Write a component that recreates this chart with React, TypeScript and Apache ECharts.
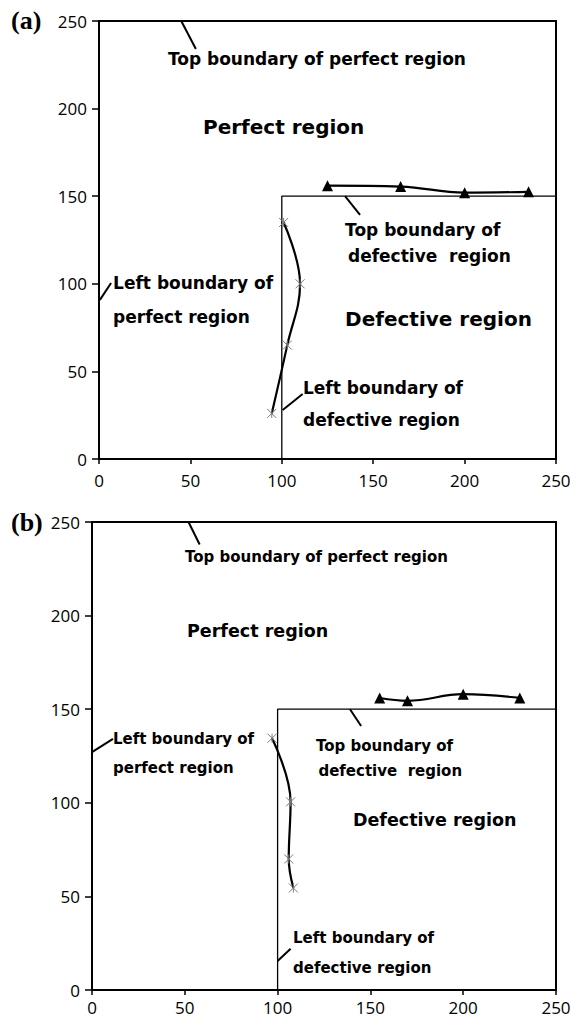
import React, { useEffect, useRef } from "react";
import * as echarts from "echarts";

// Axis range shared by both panels
const AXIS_MIN = 0;
const AXIS_MAX = 250;
const AXIS_STEP = 50;

// Panel (a): measured top-boundary points (triangles) and left-boundary points (crosses)
const topPointsA = [
  [125, 156],
  [165, 155.5],
  [200, 152],
  [235, 152.5],
];
const leftPointsA = [
  [101, 135],
  [110, 100],
  [103, 65],
  [94.5, 26],
];

// Panel (b)
const topPointsB = [
  [155, 156],
  [170, 154.5],
  [200, 158],
  [230.5, 156],
];
const leftPointsB = [
  [97, 134.5],
  [107, 100.5],
  [106, 70],
  [108.5, 54.5],
];

// Defective region outline (left edge at x=100, top edge at y=150)
const defectiveOutline = [
  [100, 0],
  [100, 150],
  [250, 150],
];

// Annotation text lines, anchored at their left / vertical middle in data units
const notesA = [
  { text: "Top boundary of perfect region", at: [37.7, 228.3], big: false },
  { text: "Perfect region", at: [56.9, 189.5], big: true },
  { text: "Top boundary of", at: [134.6, 130.7], big: false },
  { text: "defective  region", at: [136.2, 115.9], big: false },
  { text: "Left boundary of", at: [7.7, 100.5], big: false },
  { text: "perfect region", at: [7.7, 81], big: false },
  { text: "Defective region", at: [134.6, 79.9], big: true },
  { text: "Left boundary of", at: [111.6, 40.5], big: false },
  { text: "defective region", at: [111.6, 22.3], big: false },
];
const notesB = [
  { text: "Top boundary of perfect region", at: [50.1, 231.3], big: false },
  { text: "Perfect region", at: [51.2, 191.8], big: true },
  { text: "Top boundary of", at: [120.7, 130.3], big: false },
  { text: "defective  region", at: [122, 117], big: false },
  { text: "Left boundary of", at: [11.3, 134.1], big: false },
  { text: "perfect region", at: [11.3, 118.6], big: false },
  { text: "Defective region", at: [140.6, 90.8], big: true },
  { text: "Left boundary of", at: [108.3, 27.8], big: false },
  { text: "defective region", at: [108.3, 11.8], big: false },
];

// Leader lines from each boundary to its label
const leadersA = [
  [[45, 250], [53, 234]],
  [[134.6, 150], [142.8, 139.3]],
  [[0.5, 90.8], [6.6, 100.5]],
  [[100.5, 28], [111.4, 37.1]],
];
const leadersB = [
  [[52, 250], [58, 238]],
  [[139, 150], [145, 141]],
  [[0, 127.1], [11.3, 134.1]],
  [[100, 15.5], [107, 22]],
];

const panelTags = ["(a)", "(b)"];

const TICK_FONT = '"Open Sans", "DejaVu Sans", sans-serif';
const NOTE_FONT = '"DejaVu Sans", sans-serif';
const STAR = "path://M0 0L10 10M10 0L0 10M5 0L5 10";

const panels = [
  {
    grid: { left: 99, top: 21, width: 457, height: 438 },
    top: topPointsA,
    left: leftPointsA,
    notes: notesA,
    leaders: leadersA,
    small: 17,
    big: 20,
    tick: 17,
    xMargin: 13,
    tagY: 20,
  },
  {
    grid: { left: 92, top: 522, width: 464, height: 468 },
    top: topPointsB,
    left: leftPointsB,
    notes: notesB,
    leaders: leadersB,
    small: 15,
    big: 17.5,
    tick: 17,
    xMargin: 9,
    tagY: 522,
  },
];

function axis(gridIndex: number, isX: boolean, fontSize: number, margin: number) {
  return {
    type: "value",
    gridIndex,
    min: AXIS_MIN,
    max: AXIS_MAX,
    interval: AXIS_STEP,
    axisLine: { show: true, lineStyle: { color: "#000", width: 2 } },
    axisTick: {
      show: true,
      inside: false,
      length: isX ? 5 : 7,
      lineStyle: { color: "#000", width: 1.5 },
    },
    axisLabel: {
      color: "#000",
      fontSize,
      fontFamily: TICK_FONT,
      margin,
    },
    splitLine: { show: false },
  };
}

export default function App() {
  const ref = useRef<HTMLDivElement>(null);

  useEffect(() => {
    if (!ref.current) return;
    const chart = echarts.init(ref.current, undefined, { renderer: "svg" });

    const series: any[] = [];
    panels.forEach((p, i) => {
      series.push({
        type: "line",
        xAxisIndex: i,
        yAxisIndex: i,
        data: defectiveOutline,
        symbol: "none",
        silent: true,
        lineStyle: { color: "#000", width: 1.3 },
      });
      p.leaders.forEach((seg) => {
        series.push({
          type: "line",
          xAxisIndex: i,
          yAxisIndex: i,
          data: seg,
          symbol: "none",
          silent: true,
          lineStyle: { color: "#000", width: 2 },
        });
      });
      series.push({
        type: "line",
        xAxisIndex: i,
        yAxisIndex: i,
        data: p.top,
        smooth: 0.4,
        symbol: "triangle",
        symbolSize: 11,
        itemStyle: { color: "#000" },
        lineStyle: { color: "#000", width: 2.2 },
      });
      series.push({
        type: "line",
        xAxisIndex: i,
        yAxisIndex: i,
        data: p.left,
        smooth: 0.4,
        symbol: STAR,
        symbolSize: 9,
        itemStyle: { color: "none", borderColor: "#7a7a7a", borderWidth: 1 },
        lineStyle: { color: "#000", width: 2.2 },
        z: 3,
      });
    });

    chart.setOption({
      animation: false,
      backgroundColor: "#fff",
      grid: panels.map((p) => ({
        ...p.grid,
        show: true,
        borderColor: "#000",
        borderWidth: 2,
        backgroundColor: "transparent",
      })),
      xAxis: panels.map((p, i) => axis(i, true, p.tick, p.xMargin)),
      yAxis: panels.map((p, i) => axis(i, false, p.tick, 12)),
      series,
    });

    const graphics: any[] = [];
    panels.forEach((p, i) => {
      graphics.push({
        type: "text",
        x: 11,
        y: p.tagY,
        style: {
          text: panelTags[i],
          font: 'bold 26px "Liberation Serif", "DejaVu Serif", serif',
          fill: "#000",
          align: "left",
          verticalAlign: "middle",
        },
      });
      p.notes.forEach((n) => {
        const [px, py] = chart.convertToPixel({ gridIndex: i }, n.at) as number[];
        graphics.push({
          type: "text",
          x: px,
          y: py,
          style: {
            text: n.text,
            font: `bold ${n.big ? p.big : p.small}px ${NOTE_FONT}`,
            fill: "#000",
            align: "left",
            verticalAlign: "middle",
          },
        });
      });
    });
    chart.setOption({ graphic: graphics });

    return () => chart.dispose();
  }, []);

  return (
    <div
      ref={ref}
      style={{ position: "fixed", left: 0, top: 0, width: 583, height: 1018 }}
    />
  );
}
